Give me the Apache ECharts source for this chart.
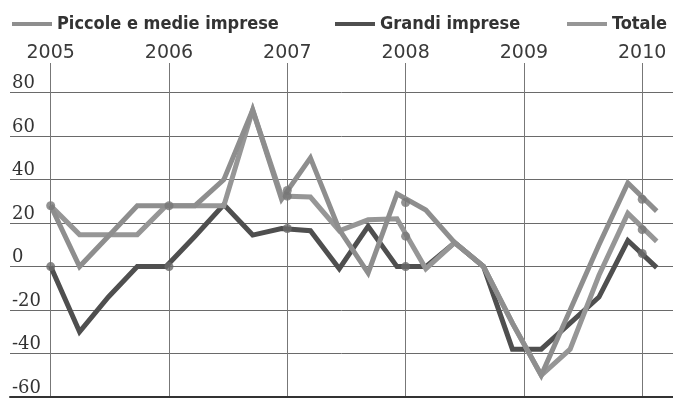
<!DOCTYPE html>
<html><head><meta charset="utf-8">
<script src="https://cdn.jsdelivr.net/npm/echarts@6.0.0/dist/echarts.min.js"></script>
<style>html,body{margin:0;padding:0;background:#fff}#c{width:673px;height:400px}</style>
</head><body><div id="c"></div>
<script>
// Quarterly observations
const quarters = ['2005 T1','2005 T2','2005 T3','2005 T4','2006 T1','2006 T2','2006 T3','2006 T4',
  '2007 T1','2007 T2','2007 T3','2007 T4','2008 T1','2008 T2','2008 T3','2008 T4',
  '2009 T1','2009 T2','2009 T3','2009 T4','2010 T1','2010 T2'];
const piccole = [28, 0, 14, 28, 28, 28, 40, 72, 31, 50, 17, -3, 33.5, 26, 11, 0, -26, -50, -20, 10, 38.5, 25.5];
const grandi  = [0, -30, -14, 0, 0, 14, 28.5, 14.5, 17.5, 16.5, -1, 18.5, 0, 0, 11, 0, -38, -38, -26, -14, 12, -0.5];
const totale  = [28, 14.7, 14.7, 14.7, 28, 28, 28, 72, 32.5, 32, 16.5, 21.5, 22, -1, 11, 0, -26, -50, -38, -4, 24.5, 11.6];
// year tick labels
const years = [2005, 2006, 2007, 2008, 2009, 2010];
const yTicks = [-60, -40, -20, 0, 20, 40, 60, 80];
// markers drawn where the lines cross the year lines
const dotsGray = [[2005,28],[2006,28],[2007,35],[2007,32.4],[2008,29.5],[2008,14],[2010,31],[2010,17]];
const dotsDark = [[2005,0],[2006,0],[2007,17.5],[2008,0],[2010,6]];

const names = ['Piccole e medie imprese', 'Grandi imprese', 'Totale'];
const cGray1 = '#8e8e8e', cDark = '#4f4f4f', cGray2 = '#969696';
const legendFont = "'DejaVu Sans Condensed','Liberation Sans Narrow','DejaVu Sans',sans-serif";
const yearMax = 2010.1226;

function legendAt(name, left) {
  return {
    data: [name], left: left, top: 15, padding: 0, icon: 'rect',
    itemWidth: 40, itemHeight: 4, selectedMode: false,
    textStyle: {fontFamily: legendFont, fontWeight: 'bold', fontSize: 18, color: '#333'}
  };
}

const chart = echarts.init(document.getElementById('c'), null, {renderer: 'canvas'});
chart.setOption({
  backgroundColor: '#ffffff',
  animation: false,
  legend: [legendAt(names[0], 12), legendAt(names[1], 335), legendAt(names[2], 567)],
  grid: [
    {left: 50.7, right: 16.3, top: 92.7, bottom: 3},
    {left: 50.7, right: 16.3, top: 63, bottom: 3},
    {left: 10, right: 0, top: 92.7, bottom: 3}
  ],
  xAxis: [
    {type: 'category', gridIndex: 0, data: quarters, boundaryGap: false, show: false},
    {type: 'value', gridIndex: 0, min: 2005, max: yearMax, show: false},
    {type: 'value', gridIndex: 1, position: 'top', min: 2005, max: yearMax, interval: 1,
      axisLine: {show: false}, axisTick: {show: false},
      axisLabel: {margin: 0, fontFamily: "'DejaVu Sans',sans-serif", fontSize: 19, color: '#3a3a3a',
        formatter: v => years.includes(v) ? String(v) : ''},
      splitLine: {show: true, showMaxLine: false, lineStyle: {color: '#777', width: 1}}},
    {type: 'value', gridIndex: 2, min: 0, max: 1, axisLabel: {show: false}, axisTick: {show: false},
      splitLine: {show: false}, axisLine: {show: true, onZero: false, lineStyle: {color: '#333', width: 2}}}
  ],
  yAxis: [
    {type: 'value', gridIndex: 0, min: -60, max: 80, show: false},
    {type: 'value', gridIndex: 1, min: 0, max: 1, show: false},
    {type: 'value', gridIndex: 2, min: -60, max: 80, interval: 20,
      axisLine: {show: false}, axisTick: {show: false},
      axisLabel: {inside: true, margin: 2, align: 'left', verticalAlign: 'bottom',
        fontFamily: "'DejaVu Serif','Liberation Serif',serif", fontSize: 18, color: '#333',
        formatter: v => yTicks.includes(v) ? String(v) : ''},
      splitLine: {show: true, lineStyle: {color: '#6a6a6a', width: 1}}}
  ],
  series: [
    {name: names[1], type: 'line', xAxisIndex: 0, yAxisIndex: 0, data: grandi, symbol: 'none',
      color: cDark, lineStyle: {color: cDark, width: 5, join: 'miter', miterLimit: 10}, z: 3},
    {name: names[2], type: 'line', xAxisIndex: 0, yAxisIndex: 0, data: totale, symbol: 'none',
      color: cGray2, lineStyle: {color: cGray2, width: 5, join: 'miter', miterLimit: 10}, z: 4},
    {name: names[0], type: 'line', xAxisIndex: 0, yAxisIndex: 0, data: piccole, symbol: 'none',
      color: cGray1, lineStyle: {color: cGray1, width: 5, join: 'miter', miterLimit: 10}, z: 5},
    {type: 'scatter', xAxisIndex: 1, yAxisIndex: 0, data: dotsGray, symbolSize: 9,
      itemStyle: {color: '#777'}, z: 6, silent: true},
    {type: 'scatter', xAxisIndex: 1, yAxisIndex: 0, data: dotsDark, symbolSize: 9,
      itemStyle: {color: '#6a6a6a'}, z: 6, silent: true}
  ]
});
</script></body></html>
